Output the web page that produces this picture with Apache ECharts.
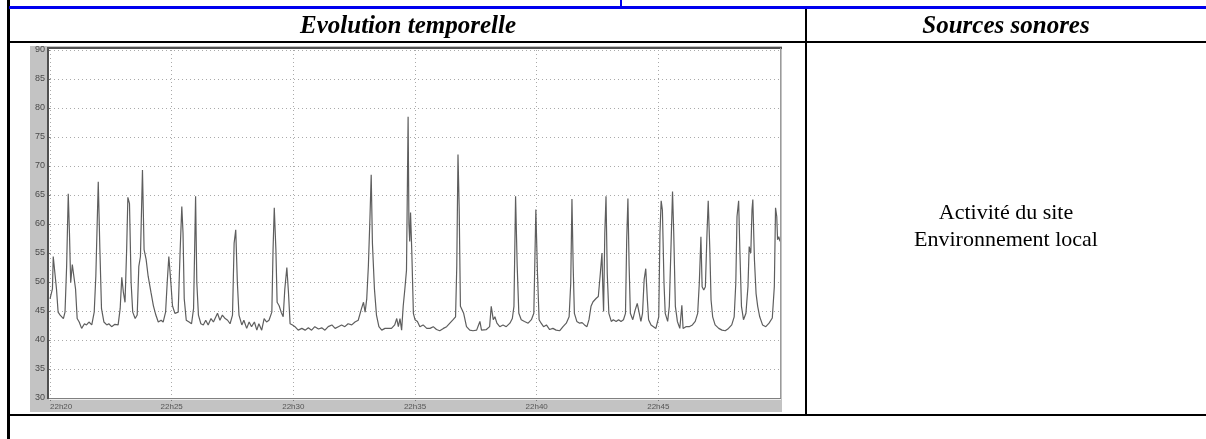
<!DOCTYPE html>
<html>
<head>
<meta charset="utf-8">
<script src="https://cdn.jsdelivr.net/npm/echarts@6/dist/echarts.min.js"></script>
<style>
html,body{margin:0;padding:0;background:#fff;}
#c{width:1206px;height:439px;}
</style>
</head>
<body>
<div id="c"></div>
<script>
// seconds after 22h20
var seconds = [
0,6,8,12,16,20,25,29,33,37,41,45,48,51,55,59,63,67,72,78,
85,90,96,103,109,113,119,123,127,133,140,145,152,160,168,173,177,181,185,189,
192,196,200,204,210,215,219,223,228,232,237,242,249,255,261,267,274,279,285,289,
293,298,302,308,316,321,325,328,331,336,343,349,354,359,362,366,372,378,384,390,
397,403,409,413,419,425,432,438,444,450,454,458,462,466,473,478,485,491,497,504,
510,515,522,528,534,540,547,550,553,557,560,565,570,575,579,584,588,592,598,604,
612,621,629,637,645,653,662,670,678,686,695,703,711,719,727,735,744,752,760,768,
773,777,781,785,789,792,795,800,805,811,818,826,834,842,850,855,859,863,867,871,
875,879,881,883,885,887,889,892,896,900,906,912,920,929,937,945,953,961,970,978,
986,994,1000,1003,1006,1009,1012,1016,1020,1027,1035,1043,1052,1060,1064,1068,1076,1084,1088,1093,
1097,1102,1109,1117,1125,1134,1140,1144,1148,1152,1156,1162,1170,1179,1187,1193,1198,1202,1206,1211,
1217,1224,1232,1240,1248,1257,1265,1273,1280,1284,1287,1290,1293,1299,1306,1312,1318,1324,1329,1334,
1339,1343,1347,1352,1357,1361,1363,1365,1368,1371,1374,1378,1384,1389,1396,1402,1408,1414,1419,1422,
1425,1428,1431,1437,1443,1448,1453,1457,1461,1465,1469,1473,1476,1482,1488,1494,1501,1504,1507,1510,
1514,1517,1523,1527,1531,1535,1538,1542,1547,1553,1558,1561,1568,1576,1584,1591,1597,1601,1605,1608,
1612,1616,1620,1623,1627,1630,1634,1640,1649,1657,1665,1673,1681,1687,1691,1694,1698,1701,1705,1710,
1716,1721,1724,1728,1731,1733,1737,1741,1745,1750,1757,1765,1773,1781,1786,1789,1792,1794,1797,1800
];
// sound level, dB(A)
var levels = [
47.1,48.8,54.4,54.7,48.8,44.8,44.3,44.6,43.7,44.8,52.7,65.2,58.4,49.9,53.0,52.7,48.8,43.7,43.1,42.0,
42.8,42.6,43.1,42.6,44.8,51.0,67.3,55.6,45.4,43.1,42.6,42.8,42.3,42.7,42.6,45.4,50.8,48.2,46.5,55.6,
64.6,63.5,49.9,44.8,43.7,44.3,52.7,54.4,69.3,55.6,53.9,51.0,48.2,45.9,44.3,43.1,43.4,43.1,44.8,49.9,
54.4,49.9,45.9,44.6,44.8,55.6,63.0,58.4,47.1,43.4,43.1,42.8,45.4,64.8,49.9,44.3,42.8,42.6,43.4,42.6,
43.7,43.1,44.0,44.6,43.4,44.3,43.7,43.4,42.8,44.3,56.7,59.0,49.9,44.3,42.6,43.4,42.0,43.1,42.3,43.1,
41.7,42.8,41.7,43.7,43.1,43.4,44.8,55.6,62.8,55.6,46.5,45.9,44.8,44.0,48.8,52.5,48.2,42.8,42.6,42.3,
41.7,42.0,41.7,42.1,41.7,42.3,41.9,42.1,41.7,42.3,42.6,42.0,42.3,42.6,42.3,42.8,42.6,43.1,43.4,45.4,
46.5,44.8,47.1,52.7,61.2,68.5,56.7,48.8,44.3,42.3,41.7,42.0,42.0,42.0,42.6,43.7,42.3,43.7,41.7,45.9,
48.8,52.0,65.0,78.5,60.0,57.0,62.0,55.5,44.6,43.5,43.2,42.3,42.6,42.0,42.0,42.3,41.8,41.6,42.0,42.3,
42.9,43.5,44.0,52.7,72.0,62.5,45.8,45.5,44.6,42.3,41.7,41.6,41.7,43.2,41.7,41.6,41.8,42.3,45.8,43.5,
44.0,42.9,42.3,42.6,42.3,42.9,43.7,45.8,64.8,52.7,44.6,43.5,43.2,42.9,43.5,44.6,62.5,51.5,43.5,42.9,
42.3,42.6,41.8,42.0,41.7,41.6,42.3,42.9,44.0,49.8,64.3,52.7,44.6,43.2,42.9,43.0,42.6,42.3,43.5,45.8,
46.6,46.3,47.2,47.5,51.5,55.0,49.2,44.9,58.4,64.8,51.5,44.6,43.2,43.5,43.2,43.5,43.2,43.5,44.6,57.3,
64.4,52.7,44.6,43.5,45.2,46.3,44.6,43.2,44.6,50.4,52.3,46.9,43.5,42.6,42.3,42.0,44.0,58.4,64.0,62.4,
49.8,44.6,43.2,45.8,55.5,65.6,58.4,45.8,43.2,42.0,46.0,42.0,42.3,42.3,42.6,43.2,44.6,49.8,57.8,49.2,
48.6,49.2,58.4,64.0,55.5,46.9,44.0,42.6,42.0,41.7,41.6,42.0,42.6,44.0,49.8,61.3,64.0,55.5,45.8,43.5,
44.6,49.2,56.1,55.0,62.5,64.2,53.8,48.0,45.8,44.0,42.6,42.3,42.9,43.8,49.2,62.8,61.3,57.3,57.8,57.0
];
var tickLabels = ['22h20','22h25','22h30','22h35','22h40','22h45','22h50'];
var headerLeft = 'Evolution temporelle';
var headerRight = 'Sources sonores';
var sourceLines = ['Activité du site', 'Environnement local'];

var points = seconds.map(function (s, i) { return [s, levels[i]]; });

var chart = echarts.init(document.getElementById('c'), null, {renderer: 'canvas'});
var serif = '"Liberation Serif", "Times New Roman", serif';
var sans = '"Liberation Sans", Arial, sans-serif';

chart.setOption({
  animation: false,
  backgroundColor: '#ffffff',
  grid: {left: 50, right: 426, top: 50, bottom: 41, containLabel: false},
  xAxis: {
    type: 'value', min: 0, max: 1800, interval: 300, z: 3,
    axisLine: {show: false},
    axisTick: {show: true, length: 3, lineStyle: {color: '#777'}},
    axisLabel: {
      fontSize: 8, fontFamily: sans, color: '#555', margin: 5,
      showMaxLabel: false, alignMinLabel: 'left',
      formatter: function (v) { return tickLabels[Math.round(v / 300)]; }
    },
    splitLine: {show: true, lineStyle: {color: '#aaaaaa', width: 1, type: [1, 3]}}
  },
  yAxis: {
    type: 'value', min: 30, max: 90, interval: 5, z: 3,
    axisLine: {show: false},
    axisTick: {show: true, length: 3, lineStyle: {color: '#777'}},
    axisLabel: {fontSize: 9, fontFamily: sans, color: '#4a4a4a', margin: 5},
    splitLine: {show: true, lineStyle: {color: '#aaaaaa', width: 1, type: [1, 3]}}
  },
  series: [{
    type: 'line', data: points, showSymbol: false, z: 4,
    lineStyle: {color: '#5e5e5e', width: 1.2},
    sampling: false
  }],
  graphic: [
    // chart panel
    {type: 'rect', z: 1, shape: {x: 30, y: 46, width: 752, height: 366}, style: {fill: '#c3c3c3'}},
    {type: 'rect', z: 2, shape: {x: 49, y: 48, width: 731, height: 351}, style: {fill: '#ffffff'}},
    {type: 'line', z: 6, shape: {x1: 48, y1: 47, x2: 48, y2: 399}, style: {stroke: '#505050', lineWidth: 2}},
    {type: 'line', z: 6, shape: {x1: 47, y1: 48, x2: 782, y2: 48}, style: {stroke: '#505050', lineWidth: 2}},
    {type: 'line', z: 6, shape: {x1: 780.5, y1: 48, x2: 780.5, y2: 399}, style: {stroke: '#9a9a9a', lineWidth: 1}},
    {type: 'line', z: 6, shape: {x1: 49, y1: 398.5, x2: 781, y2: 398.5}, style: {stroke: '#808080', lineWidth: 1}},
    {type: 'line', z: 6, shape: {x1: 49, y1: 399.5, x2: 781, y2: 399.5}, style: {stroke: '#eeeeee', lineWidth: 1}},
    // table
    {type: 'rect', z: 7, shape: {x: 7, y: 0, width: 3, height: 439}, style: {fill: '#000'}},
    {type: 'rect', z: 7, shape: {x: 9, y: 6, width: 1197, height: 3}, style: {fill: '#0000ee'}},
    {type: 'rect', z: 7, shape: {x: 620, y: 0, width: 2, height: 8}, style: {fill: '#0000ee'}},
    {type: 'rect', z: 7, shape: {x: 10, y: 41, width: 1196, height: 2}, style: {fill: '#000'}},
    {type: 'rect', z: 7, shape: {x: 805, y: 9, width: 2, height: 406}, style: {fill: '#000'}},
    {type: 'rect', z: 7, shape: {x: 10, y: 414, width: 1196, height: 2}, style: {fill: '#000'}},
    {type: 'text', z: 7, style: {x: 408, y: 27, text: headerLeft, align: 'center', verticalAlign: 'middle',
      font: 'italic bold 25px ' + serif, fill: '#000'}},
    {type: 'text', z: 7, style: {x: 1006, y: 27, text: headerRight, align: 'center', verticalAlign: 'middle',
      font: 'italic bold 25px ' + serif, fill: '#000'}},
    {type: 'text', z: 7, style: {x: 1006, y: 213, text: sourceLines[0], align: 'center', verticalAlign: 'middle',
      font: '22px ' + serif, fill: '#000'}},
    {type: 'text', z: 7, style: {x: 1006, y: 240, text: sourceLines[1], align: 'center', verticalAlign: 'middle',
      font: '22px ' + serif, fill: '#000'}}
  ]
});
</script>
</body>
</html>
